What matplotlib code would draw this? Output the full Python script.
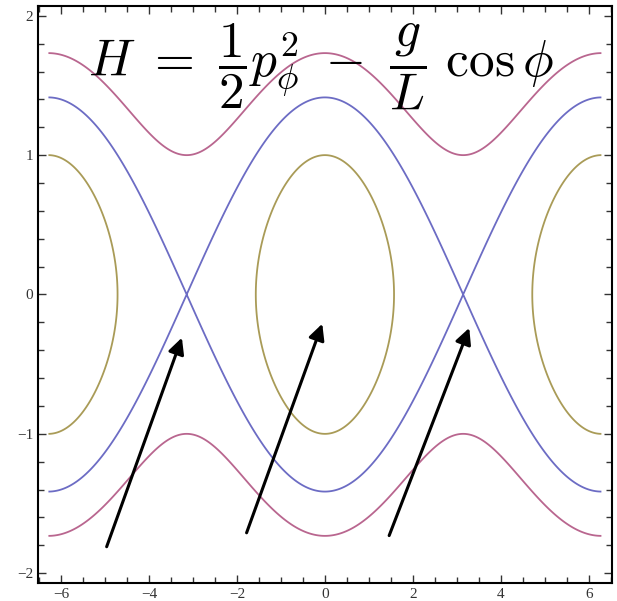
import numpy as np
import matplotlib.pyplot as plt
from matplotlib.ticker import MultipleLocator

plt.rcParams['mathtext.fontset'] = 'cm'

# pendulum Hamiltonian, g/L = 1/2
gL = 0.5
levels = [0.0, 0.5, 1.0]
colors = ['#a99b57', '#6c6cc4', '#b9668f']

# arrow tails and heads (phi, p)
arrow_tails = [(-4.96, -1.81), (-1.78, -1.71), (1.46, -1.73)]
arrow_heads = [(-3.25, -0.31), (-0.06, -0.21), (3.28, -0.24)]

phi = np.linspace(-2 * np.pi, 2 * np.pi, 1200)
p = np.linspace(-2.0, 2.0, 1200)
PHI, P = np.meshgrid(phi, p)
H = 0.5 * P**2 - gL * np.cos(PHI)

fig = plt.figure(figsize=(6.17, 6.01), dpi=100)
ax = fig.add_axes([0.0616, 0.030, 0.930, 0.960])

for lev, c in zip(levels, colors):
    ax.contour(PHI, P, H, levels=[lev], colors=[c], linewidths=1.3)

for (x0, y0), (x1, y1) in zip(arrow_tails, arrow_heads):
    ax.annotate('', xy=(x1, y1), xytext=(x0, y0),
                arrowprops=dict(arrowstyle='-|>', color='black', lw=2.2,
                                mutation_scale=24, shrinkA=0, shrinkB=0))

ax.text(-0.1, 1.64,
        r'$H\ =\ \dfrac{1}{2}p_\phi^2\ -\ \dfrac{g}{L}\ \cos\phi$',
        fontsize=37, ha='center', va='center')

ax.set_xlim(-6.52, 6.52)
ax.set_ylim(-2.07, 2.07)
ax.xaxis.set_major_locator(MultipleLocator(2))
ax.xaxis.set_minor_locator(MultipleLocator(0.5))
ax.yaxis.set_major_locator(MultipleLocator(1))
ax.yaxis.set_minor_locator(MultipleLocator(0.2))
ax.tick_params(which='both', direction='in', top=True, right=True,
               labelsize=11, colors='#333333', width=1)
ax.tick_params(which='major', length=6)
ax.tick_params(which='minor', length=4)
for lab in ax.get_xticklabels() + ax.get_yticklabels():
    lab.set_family('Liberation Serif')
for s in ax.spines.values():
    s.set_linewidth(1.5)

plt.savefig('out.png', dpi=100)
